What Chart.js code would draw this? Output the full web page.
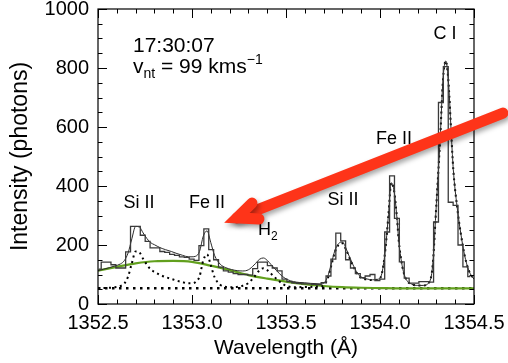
<!DOCTYPE html>
<html>
<head>
<meta charset="utf-8">
<script src="https://cdn.jsdelivr.net/npm/chart.js@4.4.0/dist/chart.umd.min.js"></script>
<style>
  html, body { margin: 0; padding: 0; background: #fff; }
  #wrap { width: 508px; height: 363px; }
</style>
</head>
<body>
<div id="wrap"><canvas id="spec" width="508" height="363"></canvas></div>
<script>
// observed spectrum, bin centres (Å) and counts
const binWl = [
  1352.504, 1352.530, 1352.556, 1352.582, 1352.608, 1352.634, 1352.660, 1352.686, 1352.712, 1352.738,
  1352.764, 1352.790, 1352.816, 1352.842, 1352.868, 1352.894, 1352.920, 1352.946, 1352.972, 1352.998,
  1353.024, 1353.050, 1353.076, 1353.102, 1353.128, 1353.154, 1353.180, 1353.206, 1353.232, 1353.258,
  1353.284, 1353.310, 1353.336, 1353.362, 1353.388, 1353.414, 1353.440, 1353.466, 1353.492, 1353.518,
  1353.544, 1353.570, 1353.596, 1353.622, 1353.648, 1353.674, 1353.700, 1353.726, 1353.752, 1353.778,
  1353.804, 1353.830, 1353.856, 1353.882, 1353.908, 1353.934, 1353.960, 1353.986, 1354.012, 1354.038,
  1354.064, 1354.090, 1354.116, 1354.142, 1354.168, 1354.194, 1354.220, 1354.246, 1354.272, 1354.298,
  1354.324, 1354.350, 1354.376, 1354.402, 1354.428, 1354.454, 1354.480
];
const binCounts = [
  118, 142, 142, 133, 122, 122, 177, 263, 263, 233,
  212, 190, 190, 178, 175, 168, 165, 160, 158, 152,
  148, 198, 255, 184, 150, 125, 112, 108, 103, 100,
  100, 98, 120, 142, 142, 130, 122, 112, 84, 76,
  72, 70, 68, 68, 67, 66, 72, 95, 152, 240,
  214, 150, 122, 103, 89, 95, 100, 79, 84, 244,
  434, 290, 143, 88, 71, 71, 76, 76, 74, 278,
  683, 805, 345, 334, 200, 126, 93
];

// total fit and narrow components (dotted)
const fitWl = [
  1352.50, 1352.53, 1352.56, 1352.59, 1352.62, 1352.64, 1352.66, 1352.68, 1352.70, 1352.72,
  1352.74, 1352.76, 1352.78, 1352.80, 1352.83, 1352.86, 1352.89, 1352.92, 1352.95, 1352.98,
  1353.00, 1353.02, 1353.04, 1353.06, 1353.08, 1353.10, 1353.12, 1353.15, 1353.18, 1353.21,
  1353.24, 1353.27, 1353.30, 1353.33, 1353.36, 1353.38, 1353.40, 1353.42, 1353.45, 1353.48,
  1353.51, 1353.54, 1353.57, 1353.60, 1353.63, 1353.66, 1353.69, 1353.72, 1353.74, 1353.76,
  1353.78, 1353.80, 1353.82, 1353.84, 1353.86, 1353.88, 1353.90, 1353.93, 1353.96, 1353.99,
  1354.01, 1354.03, 1354.045, 1354.06, 1354.075, 1354.09, 1354.10, 1354.12, 1354.14, 1354.17,
  1354.20, 1354.23, 1354.26, 1354.28, 1354.30, 1354.32, 1354.335, 1354.35, 1354.365, 1354.38,
  1354.39, 1354.41, 1354.43, 1354.45, 1354.47, 1354.49, 1354.50
];
const fitVals = [
  113, 118, 123, 129, 136, 147, 173, 221, 263, 261,
  241, 222, 208, 201, 191, 184, 178, 171, 165, 160,
  160, 162, 178, 230, 248, 208, 165, 135, 123, 117,
  113, 112, 116, 132, 152, 156, 148, 134, 113, 94,
  82, 76, 73, 72, 70, 69, 68, 90, 134, 181,
  205, 210, 187, 156, 128, 104, 91, 85, 82, 84,
  104, 193, 303, 411, 383, 293, 213, 123, 83, 67,
  63, 63, 72, 130, 340, 560, 760, 824, 745, 565,
  455, 330, 238, 165, 118, 92, 85
];
const compVals = [
  53, 54, 55, 57, 61, 69, 93, 138, 178, 175,
  153, 133, 117, 109, 99, 91, 85, 79, 74, 70,
  70, 75, 93, 148, 168, 131, 91, 65, 58, 57,
  58, 62, 71, 91, 115, 121, 115, 103, 85, 69,
  60, 57, 57, 58, 58, 59, 60, 83, 128, 176,
  201, 206, 183, 153, 125, 101, 89, 83, 81, 83,
  103, 193, 303, 411, 383, 293, 213, 123, 83, 67,
  63, 63, 72, 130, 340, 560, 760, 824, 745, 565,
  455, 330, 238, 165, 118, 92, 85
];

// broad component (green) and flat background
const bgWl = [1352.5, 1352.6, 1352.7, 1352.8, 1352.9, 1353.0, 1353.1, 1353.2, 1353.3, 1353.4, 1353.5,
              1353.6, 1353.7, 1353.8, 1353.9, 1354.0, 1354.1, 1354.2, 1354.3, 1354.4, 1354.5];
const bgVals = [113, 126, 138, 145, 146, 143, 130, 115, 98, 86, 76, 67, 61, 57, 55, 54, 53, 53, 53, 53, 53];
const baseWl = [1352.5, 1354.5];
const baseVals = [53, 53];

// axes
const xTicks = [1352.5, 1353.0, 1353.5, 1354.0, 1354.5];
const xMinor = [1352.6, 1352.7, 1352.8, 1352.9, 1353.1, 1353.2, 1353.3, 1353.4, 1353.6, 1353.7,
                1353.8, 1353.9, 1354.1, 1354.2, 1354.3, 1354.4];
const yTicks = [0, 200, 400, 600, 800, 1000];
const yMinor = [50, 100, 150, 250, 300, 350, 450, 500, 550, 650, 700, 750, 850, 900, 950];

// line identifications
const lineLabels = [
  { text: 'Si II', x: 1352.718, y: 325 },
  { text: 'Fe II', x: 1353.080, y: 325 },
  { text: 'Si II', x: 1353.803, y: 334 },
  { text: 'Fe II', x: 1354.074, y: 544 },
  { text: 'C I', x: 1354.346, y: 898 }
];

const SANS = '"Liberation Sans", Arial, Helvetica, sans-serif';

function pts(xs, ys) {
  return xs.map((x, i) => ({ x: x, y: ys[i] }));
}

// frame with inward ticks on all four sides
const frameTicks = {
  id: 'frameTicks',
  afterDatasetsDraw(chart) {
    const { ctx, chartArea: a, scales } = chart;
    const xs = scales.x, ys = scales.y;
    ctx.save();
    ctx.strokeStyle = '#000';
    ctx.lineWidth = 1.2;
    ctx.strokeRect(a.left, a.top, a.right - a.left, a.bottom - a.top);
    ctx.lineWidth = 1;
    ctx.beginPath();
    const xt = (v, len) => {
      const p = Math.round(xs.getPixelForValue(v)) + 0.5;
      ctx.moveTo(p, a.bottom); ctx.lineTo(p, a.bottom - len);
      ctx.moveTo(p, a.top); ctx.lineTo(p, a.top + len);
    };
    const yt = (v, len) => {
      const p = Math.round(ys.getPixelForValue(v)) + 0.5;
      ctx.moveTo(a.left, p); ctx.lineTo(a.left + len, p);
      ctx.moveTo(a.right, p); ctx.lineTo(a.right - len, p);
    };
    xTicks.forEach(v => xt(v, 9));
    xMinor.forEach(v => xt(v, 4.5));
    yTicks.forEach(v => yt(v, 9));
    yMinor.forEach(v => yt(v, 4.5));
    ctx.stroke();

    // labels
    ctx.fillStyle = '#000';
    ctx.textBaseline = 'alphabetic';
    ctx.textAlign = 'center';
    ctx.font = '18px ' + SANS;
    lineLabels.forEach(l => {
      ctx.fillText(l.text, xs.getPixelForValue(l.x), ys.getPixelForValue(l.y));
    });
    // H2
    ctx.textAlign = 'left';
    let hx = xs.getPixelForValue(1353.351);
    ctx.fillText('H', hx, ys.getPixelForValue(234));
    hx += ctx.measureText('H').width;
    ctx.font = '12px ' + SANS;
    ctx.fillText('2', hx, ys.getPixelForValue(217));

    // time stamp and non-thermal velocity
    const tx = xs.getPixelForValue(1352.686);
    ctx.font = '21px ' + SANS;
    ctx.fillText('17:30:07', tx, ys.getPixelForValue(854));
    const by = ys.getPixelForValue(783);
    let cx = tx;
    ctx.fillText('v', cx, by);
    cx += ctx.measureText('v').width;
    ctx.font = '14px ' + SANS;
    ctx.fillText('nt', cx, by + 5);
    cx += ctx.measureText('nt').width;
    ctx.font = '21px ' + SANS;
    ctx.fillText(' = 99 kms', cx, by);
    cx += ctx.measureText(' = 99 kms').width;
    ctx.font = '14px ' + SANS;
    ctx.fillText('\u22121', cx, by - 9);
    ctx.restore();
  },
  afterDraw(chart) {
    // red arrow pointing at the Fe II line
    const { ctx, scales } = chart;
    const P = (x, y) => [scales.x.getPixelForValue(x), scales.y.getPixelForValue(y)];
    const tail = P(1354.654, 647);
    const head = P(1353.239, 292);
    const wingUp = P(1353.319, 342);
    const wingLo = P(1353.356, 288);
    ctx.save();
    ctx.strokeStyle = '#fe3419';
    ctx.lineWidth = 11;
    ctx.lineCap = 'round';
    ctx.lineJoin = 'miter';
    ctx.shadowColor = 'rgba(0,0,0,0.35)';
    ctx.shadowBlur = 5;
    ctx.shadowOffsetX = 2;
    ctx.shadowOffsetY = 3;
    ctx.beginPath();
    ctx.moveTo(tail[0], tail[1]);
    ctx.lineTo(head[0], head[1]);
    ctx.stroke();
    ctx.beginPath();
    ctx.moveTo(wingUp[0], wingUp[1]);
    ctx.lineTo(head[0], head[1]);
    ctx.lineTo(wingLo[0], wingLo[1]);
    ctx.stroke();
    ctx.restore();
  }
};

new Chart(document.getElementById('spec').getContext('2d'), {
  type: 'line',
  data: {
    datasets: [
      {
        label: 'observed',
        data: pts(binWl, binCounts),
        stepped: 'middle',
        borderColor: '#3a3a3a',
        borderWidth: 1.3,
        pointRadius: 0,
        fill: false,
        clip: 0
      },
      {
        label: 'fit',
        data: pts(fitWl, fitVals),
        borderColor: '#2a2a2a',
        borderWidth: 1,
        cubicInterpolationMode: 'monotone',
        pointRadius: 0,
        fill: false,
        clip: 0
      },
      {
        label: 'components',
        data: pts(fitWl, compVals),
        borderColor: '#000',
        borderWidth: 2,
        borderDash: [2, 3.5],
        cubicInterpolationMode: 'monotone',
        pointRadius: 0,
        fill: false,
        clip: 0
      },
      {
        label: 'broad',
        data: pts(bgWl, bgVals),
        borderColor: '#62a01e',
        borderWidth: 2.2,
        cubicInterpolationMode: 'monotone',
        pointRadius: 0,
        fill: false,
        clip: 0
      },
      {
        label: 'background',
        data: pts(baseWl, baseVals),
        borderColor: '#000',
        borderWidth: 2.5,
        borderDash: [2.5, 4.5],
        pointRadius: 0,
        fill: false,
        clip: 0
      }
    ]
  },
  options: {
    responsive: false,
    animation: false,
    events: [],
    layout: { padding: { left: 0, right: 34, top: 9, bottom: 0 } },
    plugins: {
      legend: { display: false },
      tooltip: { enabled: false }
    },
    scales: {
      x: {
        type: 'linear',
        min: 1352.5,
        max: 1354.5,
        grid: { display: false, drawTicks: false },
        border: { display: false },
        afterBuildTicks: s => { s.ticks = xTicks.map(v => ({ value: v })); },
        afterFit: s => { s.height = 59; s.paddingLeft = 0; s.paddingRight = 0; },
        ticks: {
          autoSkip: false,
          maxRotation: 0,
          padding: 9,
          color: '#000',
          font: { family: SANS, size: 20, lineHeight: 1 },
          callback: v => Number(v).toFixed(1)
        },
        title: {
          display: true,
          text: 'Wavelength (\u00c5)',
          color: '#000',
          font: { family: SANS, size: 21, lineHeight: 1.2 },
          padding: { top: 0, bottom: 2 }
        }
      },
      y: {
        min: 0,
        max: 1000,
        grid: { display: false, drawTicks: false },
        border: { display: false },
        afterBuildTicks: s => { s.ticks = yTicks.map(v => ({ value: v })); },
        afterFit: s => { s.width = 98; s.paddingTop = 0; s.paddingBottom = 0; },
        ticks: {
          padding: 9,
          color: '#000',
          font: { family: SANS, size: 20, lineHeight: 1 },
          callback: v => String(v)
        },
        title: {
          display: true,
          text: 'Intensity (photons)',
          color: '#000',
          font: { family: SANS, size: 23, lineHeight: 1 },
          padding: { top: 9, bottom: 0 }
        }
      }
    }
  },
  plugins: [frameTicks]
});
</script>
</body>
</html>
